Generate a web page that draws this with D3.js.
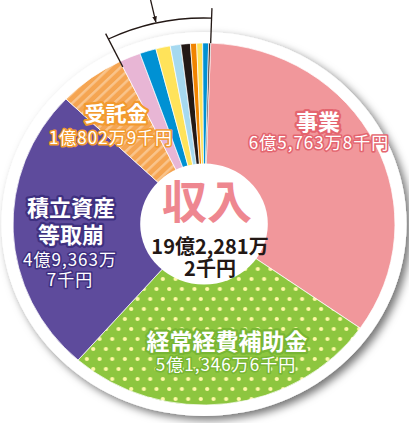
<!DOCTYPE html>
<html lang="ja">
<head>
<meta charset="utf-8">
<script src="https://cdn.jsdelivr.net/npm/d3@7"></script>
<style>
  html, body { margin: 0; padding: 0; background: #fff; }
  svg { display: block; font-family: "Noto Sans CJK JP", "Noto Sans", sans-serif; }
</style>
</head>
<body>
<div id="chart"></div>
<script>
// 収入の内訳（千円）
const categories = [
  "事業", "経常経費補助金", "積立資産等取崩", "受託金",
  "その他a", "その他b", "その他c", "その他d", "その他e",
  "その他f", "その他g", "その他h", "その他i",
];
const values = [
  657638, 513466, 493637, 108029,
  34700, 26700, 23500, 17100, 15500, 10100, 9600, 9600, 3242,
];
const nameLines = {
  "事業": ["事業"],
  "経常経費補助金": ["経常経費補助金"],
  "積立資産等取崩": ["積立資産", "等取崩"],
  "受託金": ["受託金"],
};
const valueLines = {
  "事業": ["6億5,763万8千円"],
  "経常経費補助金": ["5億1,346万6千円"],
  "積立資産等取崩": ["4億9,363万", "7千円"],
  "受託金": ["1億802万9千円"],
};
const centerTitle = "収入";
const totalLines = ["19億2,281万", "2千円"];

const width = 409;
const height = 423;
const cx = 204;
const cy = 224;
const radius = 181;
const stretch = 1.055; // the picture is slightly wider than tall
const offset = (2 * Math.PI) / 180;

const fills = {
  "事業": "#f1979b",
  "経常経費補助金": "url(#dots)",
  "積立資産等取崩": "#5e4b9c",
  "受託金": "url(#stripes)",
  "その他a": "#e8b6d5",
  "その他b": "#0091d3",
  "その他c": "#ffe35a",
  "その他d": "#a6d9f0",
  "その他e": "#231815",
  "その他f": "#f08300",
  "その他g": "#ffe35a",
  "その他h": "#0091d3",
  "その他i": "#3b2a26",
};

const labelStyle = {
  "事業": { x: 318, y: 130, dy: 19, size: 22, stroke: "#e4656f", vx: 319, vy: 149 },
  "受託金": { x: 116, y: 121, dy: 19, size: 21, stroke: "#f29a2e", vx: 111, vy: 144 },
  "積立資産等取崩": { x: 71, y: 216, dy: 27, size: 22, stroke: "#3f3080", vx: 70, vy: 266 },
  "経常経費補助金": { x: 227, y: 350, dy: 19, size: 23, stroke: "#78b634", vx: 226, vy: 371 },
};

const data = categories.map((key, i) => ({ key, value: values[i] }));

const svg = d3
  .select("#chart")
  .append("svg")
  .attr("width", width)
  .attr("height", height)
  .attr("viewBox", [0, 0, width, height]);

const defs = svg.append("defs");

const shadow = defs
  .append("filter")
  .attr("id", "shadow")
  .attr("x", "-20%")
  .attr("y", "-20%")
  .attr("width", "140%")
  .attr("height", "140%");
shadow
  .append("feDropShadow")
  .attr("dx", 4)
  .attr("dy", 4)
  .attr("stdDeviation", 4)
  .attr("flood-color", "#000")
  .attr("flood-opacity", 0.55);

const dots = defs
  .append("pattern")
  .attr("id", "dots")
  .attr("patternUnits", "userSpaceOnUse")
  .attr("width", 12)
  .attr("height", 20);
dots.append("rect").attr("width", 12).attr("height", 20).attr("fill", "#8dc63f");
dots
  .selectAll("circle")
  .data([[3, 5], [9, 15]])
  .join("circle")
  .attr("cx", (d) => d[0])
  .attr("cy", (d) => d[1])
  .attr("r", 2)
  .attr("fill", "#fff8a6");

const stripes = defs
  .append("pattern")
  .attr("id", "stripes")
  .attr("patternUnits", "userSpaceOnUse")
  .attr("width", 7)
  .attr("height", 7)
  .attr("patternTransform", "rotate(45)");
stripes.append("rect").attr("width", 7).attr("height", 7).attr("fill", "#f5a552");
stripes.append("rect").attr("width", 2.4).attr("height", 7).attr("fill", "#f9c48c");

defs
  .append("marker")
  .attr("id", "tip")
  .attr("viewBox", "0 0 10 10")
  .attr("refX", 9)
  .attr("refY", 5)
  .attr("markerWidth", 5)
  .attr("markerHeight", 6)
  .attr("orient", "auto")
  .append("path")
  .attr("d", "M0,1.5L10,5L0,8.5Z")
  .attr("fill", "#231815");

const pie = d3
  .pie()
  .sort(null)
  .value((d) => d.value)
  .startAngle(offset)
  .endAngle(2 * Math.PI + offset);

const arcs = pie(data);

const arc = d3.arc().innerRadius(0).outerRadius(radius);

const g = svg
  .append("g")
  .attr("transform", `translate(${cx},${cy}) scale(${stretch},1)`);

// white rim with shadow
g.append("circle")
  .attr("r", radius + 11)
  .attr("fill", "#fff")
  .attr("filter", "url(#shadow)");

g.append("g")
  .selectAll("path")
  .data(arcs, (d) => d.data.key)
  .join("path")
  .attr("d", arc)
  .attr("fill", (d) => fills[d.data.key])
  .attr("stroke", "#fff")
  .attr("stroke-width", 0.7);

g.append("circle").attr("r", 60.5).attr("fill", "#fff");

// bracket over the small slices
const small = arcs.slice(4);
const a0 = small[0].startAngle;
const a1 = small[small.length - 1].endAngle;
const point = (r, a) => [r * Math.sin(a), -r * Math.cos(a)];

const bracket = d3.path();
bracket.arc(0, 0, 206, a0 - Math.PI / 2, a1 - Math.PI / 2);

const lines = g
  .append("g")
  .attr("fill", "none")
  .attr("stroke", "#231815")
  .attr("stroke-width", 1.3);

lines.append("path").attr("d", bracket.toString()).attr("vector-effect", "non-scaling-stroke");

lines
  .selectAll("line.tick")
  .data([
    [a0, 212, 175],
    [a1, 216, 181],
  ])
  .join("line")
  .attr("class", "tick")
  .attr("x1", (d) => point(d[1], d[0])[0])
  .attr("y1", (d) => point(d[1], d[0])[1])
  .attr("x2", (d) => point(d[2], d[0])[0])
  .attr("y2", (d) => point(d[2], d[0])[1])
  .attr("vector-effect", "non-scaling-stroke");

const mid = (a0 + a1) / 2 - 0.012;
lines
  .append("line")
  .attr("x1", point(250, mid)[0])
  .attr("y1", point(250, mid)[1])
  .attr("x2", point(207, mid)[0])
  .attr("y2", point(207, mid)[1])
  .attr("vector-effect", "non-scaling-stroke")
  .attr("marker-end", "url(#tip)");

// slice labels: one text per label, name lines then value lines
const labels = svg
  .append("g")
  .attr("text-anchor", "middle")
  .attr("fill", "#fff")
  .attr("stroke-linejoin", "round")
  .style("paint-order", "stroke");

Object.keys(labelStyle).forEach((key) => {
  const s = labelStyle[key];
  const text = labels.append("text").attr("stroke", s.stroke);

  nameLines[key].forEach((line, i) => {
    text
      .append("tspan")
      .attr("x", s.x)
      .attr("y", s.y + i * s.dy)
      .attr("font-size", s.size)
      .attr("font-weight", 700)
      .attr("stroke-width", 4.5)
      .text(line);
  });

  valueLines[key].forEach((line, i) => {
    text
      .append("tspan")
      .attr("x", s.vx)
      .attr("y", s.vy + i * 20)
      .attr("font-size", 17)
      .attr("font-weight", 400)
      .attr("letter-spacing", 1)
      .attr("stroke-width", 3.2)
      .text(line);
  });
});

// centre
const centre = svg
  .append("text")
  .attr("text-anchor", "middle")
  .attr("font-weight", 700);

centre
  .append("tspan")
  .attr("x", cx + 3)
  .attr("y", 219)
  .attr("font-size", 45)
  .attr("fill", "#ee8790")
  .text(centerTitle);

totalLines.forEach((line, i) => {
  centre
    .append("tspan")
    .attr("x", cx + 6)
    .attr("y", 254 + i * 22)
    .attr("font-size", 20)
    .attr("fill", "#231815")
    .text(line);
});
</script>
</body>
</html>
